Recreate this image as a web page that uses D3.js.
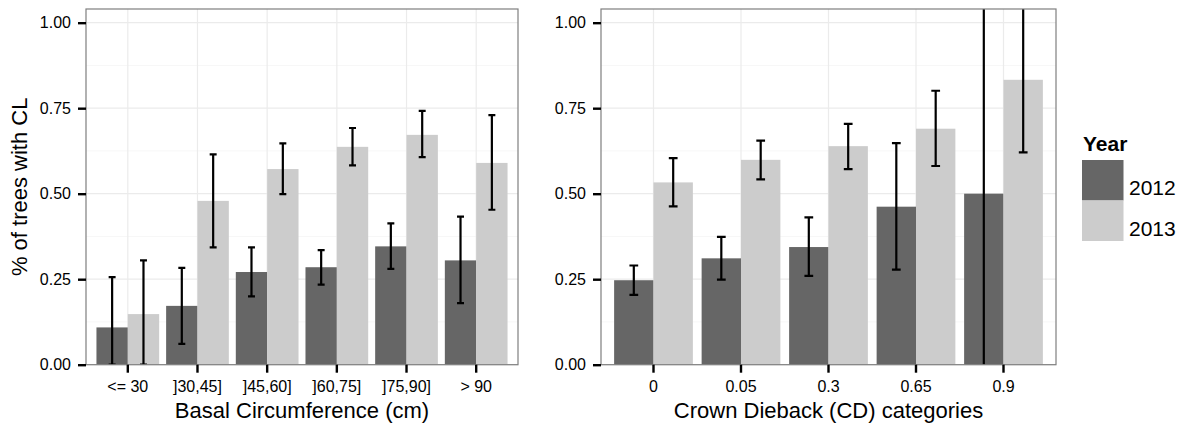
<!DOCTYPE html>
<html>
<head>
<meta charset="utf-8">
<script src="https://cdn.jsdelivr.net/npm/d3@7"></script>
<style>
  body { margin: 0; background: #fff; }
  svg text { font-family: "Liberation Sans", Arial, Helvetica, sans-serif; }
</style>
</head>
<body>
<div id="chart"></div>
<script>
// data
const years = ["2012", "2013"];

const basalCats = ["<= 30", "]30,45]", "]45,60]", "]60,75]", "]75,90]", "> 90"];
const basal2012 = [0.109, 0.172, 0.271, 0.285, 0.346, 0.305];
const basal2012Lo = [0.0, 0.061, 0.200, 0.234, 0.280, 0.180];
const basal2012Hi = [0.256, 0.283, 0.343, 0.335, 0.413, 0.433];
const basal2013 = [0.148, 0.479, 0.572, 0.637, 0.672, 0.590];
const basal2013Lo = [0.0, 0.343, 0.499, 0.583, 0.607, 0.453];
const basal2013Hi = [0.305, 0.615, 0.647, 0.692, 0.742, 0.730];

const cdCats = ["0", "0.05", "0.3", "0.65", "0.9"];
const cd2012 = [0.247, 0.311, 0.344, 0.462, 0.500];
const cd2012Lo = [0.204, 0.249, 0.260, 0.278, -0.10];
const cd2012Hi = [0.290, 0.374, 0.431, 0.648, 1.20];
const cd2013 = [0.533, 0.599, 0.639, 0.690, 0.833];
const cd2013Lo = [0.463, 0.542, 0.572, 0.581, 0.621];
const cd2013Hi = [0.604, 0.655, 0.704, 0.801, 1.20];

const yTicks = [0, 0.25, 0.5, 0.75, 1];
const yMinor = [0.125, 0.375, 0.625, 0.875];

const width = 1183, height = 426;
const plotTop = 9, plotBottom = 364.7;
const color = d3.scaleOrdinal().domain(years).range(["#666666", "#cccccc"]);

const svg = d3.select("#chart")
  .append("svg")
  .attr("width", width)
  .attr("height", height);

const y = d3.scaleLinear()
  .domain([0, 1.04])
  .range([plotBottom, plotTop]);

function rows(cats, v12, lo12, hi12, v13, lo13, hi13) {
  let out = [];
  cats.forEach((c, i) => {
    out.push({cat: c, year: "2012", v: v12[i], lo: lo12[i], hi: hi12[i]});
    out.push({cat: c, year: "2013", v: v13[i], lo: lo13[i], hi: hi13[i]});
  });
  return out;
}

function panel(id, left, right, cats, data, xTitle, showYTitle) {
  const x = d3.scaleBand()
    .domain(cats)
    .range([left, right])
    .paddingInner(0.1)
    .paddingOuter(0.15);
  const xSub = d3.scaleBand()
    .domain(years)
    .range([0, x.bandwidth()]);
  const step = x.step();

  const g = svg.append("g");

  g.append("clipPath").attr("id", id)
    .append("rect")
    .attr("x", left).attr("y", plotTop)
    .attr("width", right - left).attr("height", plotBottom - plotTop);

  // grid
  g.selectAll(".minor")
    .data(yMinor)
    .enter().append("line")
    .attr("x1", left).attr("x2", right)
    .attr("y1", d => y(d)).attr("y2", d => y(d))
    .attr("stroke", "#f7f7f7").attr("stroke-width", 1);
  g.selectAll(".major")
    .data(yTicks)
    .enter().append("line")
    .attr("x1", left).attr("x2", right)
    .attr("y1", d => y(d)).attr("y2", d => y(d))
    .attr("stroke", "#ebebeb").attr("stroke-width", 1.2);
  g.selectAll(".vgrid")
    .data(cats)
    .enter().append("line")
    .attr("x1", d => x(d) + x.bandwidth() / 2).attr("x2", d => x(d) + x.bandwidth() / 2)
    .attr("y1", plotTop).attr("y2", plotBottom)
    .attr("stroke", "#ebebeb").attr("stroke-width", 1.2);

  const inner = g.append("g").attr("clip-path", `url(#${id})`);

  inner.selectAll(".bar")
    .data(data)
    .enter().append("rect")
    .attr("x", d => x(d.cat) + xSub(d.year))
    .attr("y", d => y(d.v))
    .attr("width", xSub.bandwidth())
    .attr("height", d => y(0) - y(d.v))
    .attr("fill", d => color(d.year));

  const capW = step * 0.1;
  const eb = inner.selectAll(".err")
    .data(data)
    .enter().append("g")
    .attr("stroke", "#000")
    .attr("stroke-width", 2.2);
  const cx = d => x(d.cat) + xSub(d.year) + xSub.bandwidth() / 2;
  eb.append("line")
    .attr("x1", cx).attr("x2", cx)
    .attr("y1", d => y(d.lo)).attr("y2", d => y(d.hi));
  eb.append("line")
    .attr("x1", d => cx(d) - capW / 2).attr("x2", d => cx(d) + capW / 2)
    .attr("y1", d => y(d.lo)).attr("y2", d => y(d.lo));
  eb.append("line")
    .attr("x1", d => cx(d) - capW / 2).attr("x2", d => cx(d) + capW / 2)
    .attr("y1", d => y(d.hi)).attr("y2", d => y(d.hi));

  // border
  g.append("rect")
    .attr("x", left).attr("y", plotTop)
    .attr("width", right - left).attr("height", plotBottom - plotTop)
    .attr("fill", "none").attr("stroke", "#7f7f7f").attr("stroke-width", 1.2);

  // axes
  const yAxis = g.append("g")
    .attr("transform", `translate(${left},0)`)
    .call(d3.axisLeft(y).tickValues(yTicks).tickFormat(d3.format(".2f")).tickSize(8).tickPadding(7));
  const xAxis = g.append("g")
    .attr("transform", `translate(0,${plotBottom})`)
    .call(d3.axisBottom(x).tickSize(8).tickPadding(8));
  [yAxis, xAxis].forEach(a => {
    a.select(".domain").remove();
    a.selectAll(".tick line").attr("stroke", "#000").attr("stroke-width", 2.4);
    a.selectAll(".tick text").attr("fill", "#000").attr("font-size", "16px")
      .attr("font-family", '"Liberation Sans", Arial, sans-serif');
  });

  g.append("text")
    .attr("x", (left + right) / 2)
    .attr("y", 418)
    .attr("text-anchor", "middle")
    .attr("font-size", "22px")
    .text(xTitle);

  if (showYTitle) {
    g.append("text")
      .attr("transform", `translate(27,${(plotTop + plotBottom) / 2}) rotate(-90)`)
      .attr("text-anchor", "middle")
      .attr("font-size", "22px")
      .text("% of trees with CL");
  }
}

panel("clipL", 86, 518, basalCats,
  rows(basalCats, basal2012, basal2012Lo, basal2012Hi, basal2013, basal2013Lo, basal2013Hi),
  "Basal Circumference (cm)", true);
panel("clipR", 601, 1056, cdCats,
  rows(cdCats, cd2012, cd2012Lo, cd2012Hi, cd2013, cd2013Lo, cd2013Hi),
  "Crown Dieback (CD) categories", false);

// legend
const legend = svg.append("g").attr("transform", "translate(1082,0)");
legend.append("text")
  .attr("x", 1).attr("y", 151)
  .attr("font-size", "21px").attr("font-weight", "bold")
  .text("Year");
legend.selectAll(".key")
  .data(years)
  .enter().append("rect")
  .attr("x", 0)
  .attr("y", (d, i) => 160 + i * 40.5)
  .attr("width", 41.5).attr("height", 40.5)
  .attr("fill", d => color(d));
legend.selectAll(".lab")
  .data(years)
  .enter().append("text")
  .attr("x", 47)
  .attr("y", (d, i) => 195 + i * 40.5)
  .attr("font-size", "21px")
  .text(d => d);
</script>
</body>
</html>
